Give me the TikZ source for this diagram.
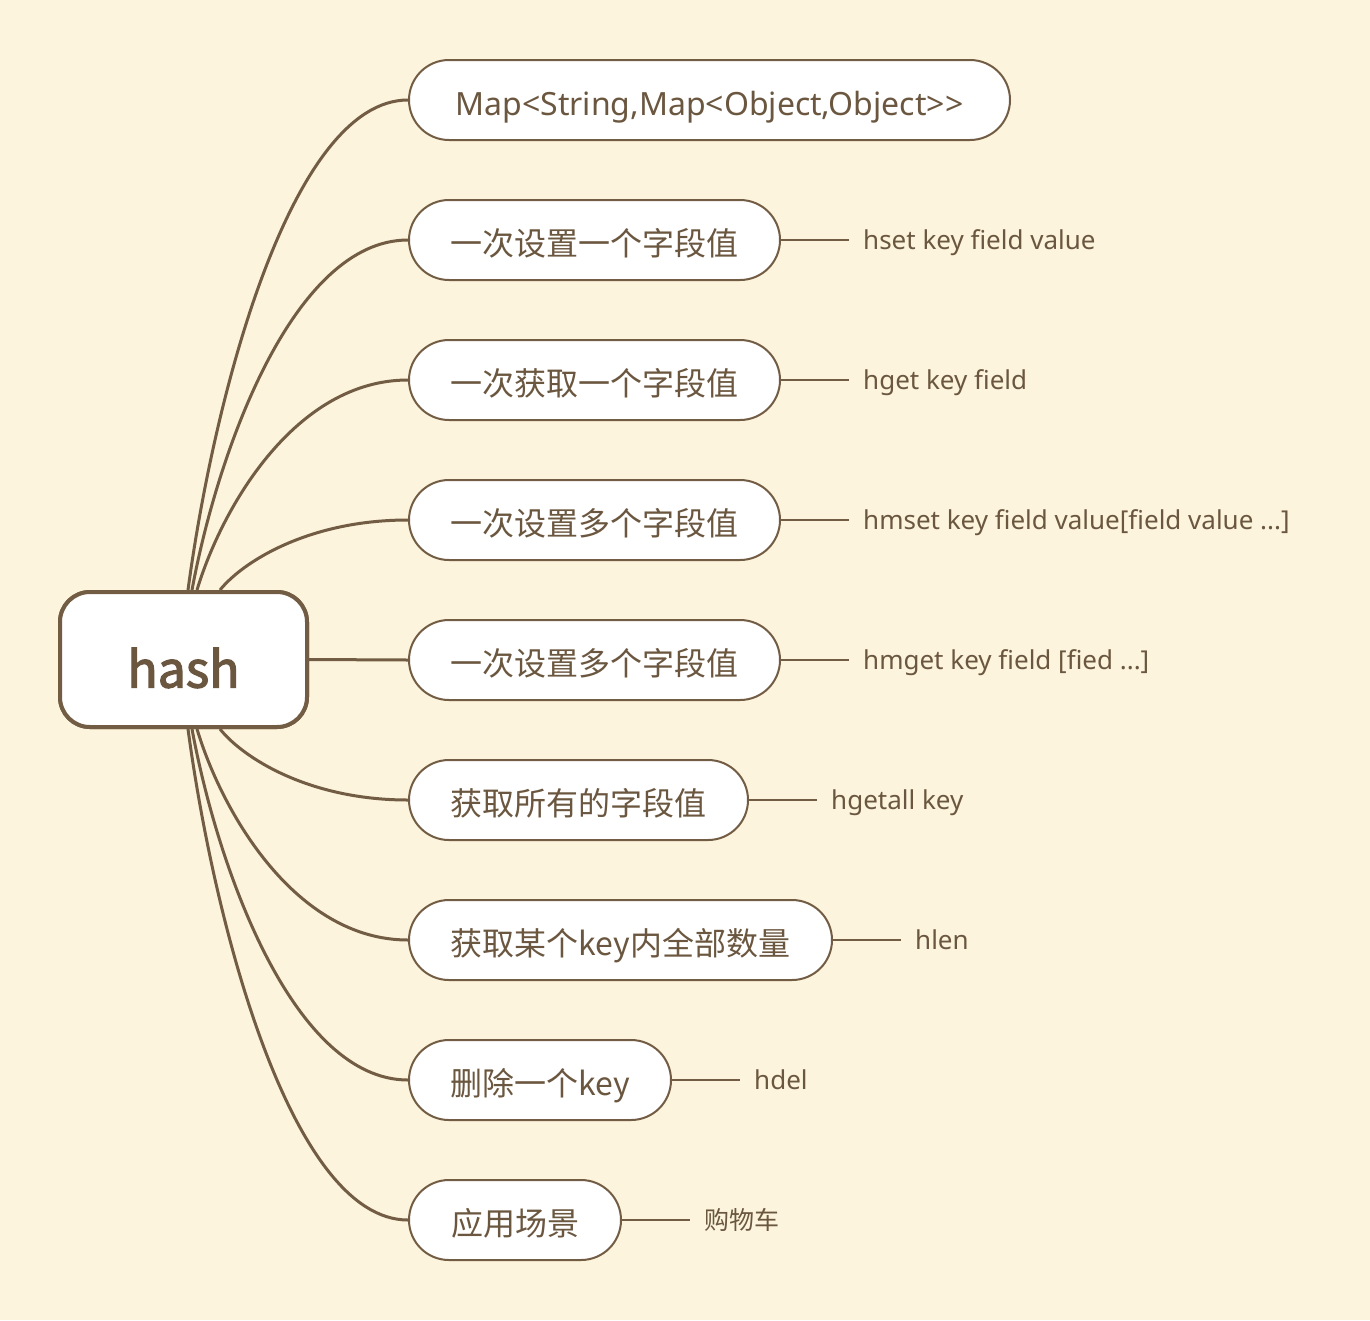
\documentclass[tikz,border=0pt]{standalone}
\usepackage{fontspec}
\setmainfont{Noto Sans CJK SC}
\newfontfamily\latinfont{Noto Sans}
\newfontface\rootfont[FakeBold=2.5]{Noto Sans CJK SC}
\usetikzlibrary{calc,positioning}

\definecolor{paper}{HTML}{FCF4DD}
\definecolor{bark}{HTML}{735C44}
\definecolor{ink}{HTML}{6B5740}

\tikzset{
  rootbox/.style={draw=bark, line width=4pt, fill=white, rounded corners=30pt,
    minimum width=247pt, minimum height=135pt, text=ink,
    text height=56pt, text depth=0pt,
    font=\fontsize{50}{58}\selectfont\rootfont},
  topic/.style={draw=bark, line width=2pt, fill=white, rounded corners=40pt,
    minimum height=80pt, anchor=west, inner xsep=0pt, text=ink,
    text height=30pt, text depth=0pt,
    font=\fontsize{32}{38}\selectfont},
  cmd/.style={inner xsep=14pt, inner ysep=0pt, text=ink,
    text height=19pt, text depth=0pt,
    font=\fontsize{26}{31}\selectfont\latinfont},
  branch/.style={draw=bark, line width=3pt},
  twig/.style={draw=bark, line width=2pt}
}

\begin{document}
\begin{tikzpicture}[x=1pt, y=-1pt]
  % page and background
  \useasboundingbox (0,0) rectangle (1370,1320);
  \fill[paper] (0,0) rectangle (1370,1320);

  % root
  \node[rootbox] (hash) at (183.5,659.5) {hash};

  % topics
  \node[topic, minimum width=601pt, font=\fontsize{32}{38}\selectfont\latinfont] (t1) at (408,100) {Map<String,Map<Object,Object>{}>};
  \node[topic, minimum width=371pt] (t2) at (408,240) {一次设置一个字段值};
  \node[topic, minimum width=371pt] (t3) at (408,380) {一次获取一个字段值};
  \node[topic, minimum width=371pt] (t4) at (408,520) {一次设置多个字段值};
  \node[topic, minimum width=371pt] (t5) at (408,660) {一次设置多个字段值};
  \node[topic, minimum width=339pt] (t6) at (408,800) {获取所有的字段值};
  \node[topic, minimum width=423pt] (t7) at (408,940) {获取某个key内全部数量};
  \node[topic, minimum width=262pt] (t8) at (408,1080) {删除一个key};
  \node[topic, minimum width=212pt] (t9) at (408,1220) {应用场景};

  % commands
  \node[cmd, right=68pt of t2] (c2) {hset key field value};
  \node[cmd, right=68pt of t3] (c3) {hget key field};
  \node[cmd, right=68pt of t4] (c4) {hmset key field value[field value ...]};
  \node[cmd, right=68pt of t5] (c5) {hmget key field [fied ...]};
  \node[cmd, right=68pt of t6] (c6) {hgetall key};
  \node[cmd, right=68pt of t7] (c7) {hlen};
  \node[cmd, right=68pt of t8] (c8) {hdel};
  \node[cmd, right=68pt of t9, font=\fontsize{25}{30}\selectfont] (c9) {购物车};

  \foreach \i in {2,...,9} {
    \draw[twig] (t\i.east) -- (c\i.west);
  }

  % branches above
  \foreach \t/\sx in {1/4.5,2/8.5,3/13.5,4/36.5} {
    \coordinate (s) at ([xshift=\sx pt]hash.north);
    \coordinate (a) at ($(s)!0.12!(t\t.west)$);
    \coordinate (b) at ($(s)!0.4!(t\t.west)$);
    \coordinate (m) at ($(s)!0.47!(t\t.west)$);
    \draw[branch] (s) .. controls (a |- b) and (m |- t\t.west) .. (t\t.west);
  }
  % branches below
  \foreach \t/\sx in {6/36.5,7/13.5,8/8.5,9/4.5} {
    \coordinate (s) at ([xshift=\sx pt]hash.south);
    \coordinate (a) at ($(s)!0.12!(t\t.west)$);
    \coordinate (b) at ($(s)!0.4!(t\t.west)$);
    \coordinate (m) at ($(s)!0.47!(t\t.west)$);
    \draw[branch] (s) .. controls (a |- b) and (m |- t\t.west) .. (t\t.west);
  }
  \draw[branch] (hash.east) -- (t5.west); % straight one

  % redraw root on top of branch ends
  \node[rootbox] at (hash) {hash};
\end{tikzpicture}
\end{document}
